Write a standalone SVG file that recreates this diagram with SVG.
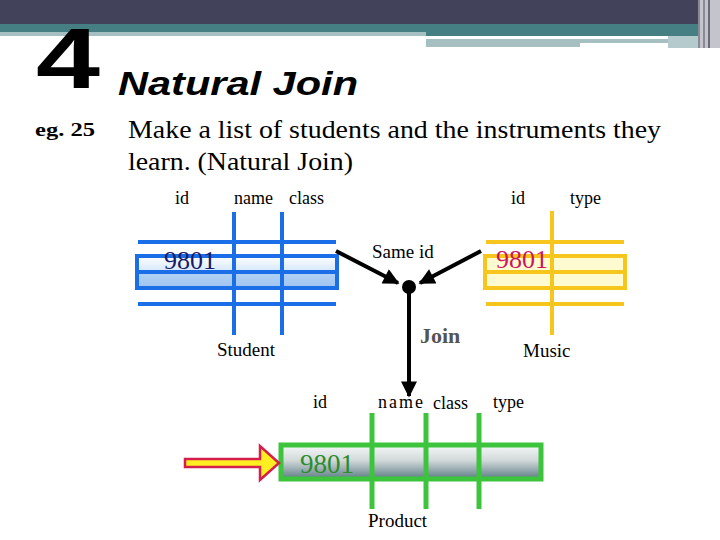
<svg xmlns="http://www.w3.org/2000/svg" width="720" height="540" viewBox="0 0 720 540">
<defs>
<style>
.serif{font-family:"Liberation Serif","Times New Roman",serif;fill:#000}
.hdr{font-size:18px}
.blue{stroke:#1a6ee8;stroke-width:4;fill:none}
.gold{stroke:#f6c61c;stroke-width:4;fill:none}
.green{stroke:#3cc43c;stroke-width:5;fill:none}
.conn{stroke:#000;stroke-width:4;fill:none}
</style>
<linearGradient id="gBlue" x1="0" y1="0" x2="0" y2="1">
<stop offset="0" stop-color="#ffffff"/>
<stop offset="0.5" stop-color="#d4e6fb"/>
<stop offset="0.5" stop-color="#b4d2f5"/>
<stop offset="1" stop-color="#9ec4f0"/>
</linearGradient>
<linearGradient id="gGray" x1="0" y1="0" x2="0" y2="1">
<stop offset="0" stop-color="#f6f8f8"/>
<stop offset="0.45" stop-color="#d2d9da"/>
<stop offset="1" stop-color="#5c7c84"/>
</linearGradient>
<marker id="ah" viewBox="0 0 10 10" refX="9" refY="5" markerWidth="4.5" markerHeight="4" orient="auto" markerUnits="strokeWidth">
<path d="M0,0 L10,5 L0,10 z" fill="#000"/>
</marker>
</defs>
<rect width="720" height="540" fill="#fff"/>
<g id="header-band">
<rect x="0" y="0" width="720" height="24" fill="#42435a"/>
<rect x="0" y="24" width="426" height="8" fill="#467f83"/>
<rect x="426" y="24" width="272" height="12" fill="#467f83"/>
<rect x="0" y="32" width="426" height="4" fill="#a6bfc1"/>
<rect x="426" y="39" width="154" height="8" fill="#a6bfc1"/>
<rect x="580" y="39" width="88" height="4" fill="#a6bfc1"/>
<rect x="668" y="36" width="30" height="12" fill="#b4cacc"/>
<rect x="698" y="0" width="22" height="48" fill="#c4c4cc"/>
<rect x="698" y="0" width="2" height="48" fill="#8a8a96"/>
<rect x="703" y="0" width="2" height="48" fill="#8a8a96"/>
<rect x="708" y="0" width="2" height="48" fill="#6a6a78"/>
</g>
<g id="title">
<text x="36" y="88" font-family="'Liberation Sans',Arial,sans-serif" font-weight="bold" font-size="86" textLength="64" lengthAdjust="spacingAndGlyphs">4</text>
<text x="118" y="95" font-family="'Liberation Sans',Arial,sans-serif" font-weight="bold" font-style="italic" font-size="34" textLength="240" lengthAdjust="spacingAndGlyphs">Natural Join</text>
<text class="serif" x="35" y="136" font-size="19" font-weight="bold" textLength="60" lengthAdjust="spacingAndGlyphs">eg. 25</text>
<text class="serif" x="128" y="138" font-size="26" textLength="533" lengthAdjust="spacingAndGlyphs">Make a list of students and the instruments they</text>
<text class="serif" x="128" y="170" font-size="26" textLength="225" lengthAdjust="spacingAndGlyphs">learn. (Natural Join)</text>
</g>
<g id="student">
<text class="serif hdr" x="175" y="204">id</text>
<text class="serif hdr" x="234" y="204">name</text>
<text class="serif hdr" x="289" y="204">class</text>
<rect x="137" y="256" width="200" height="32" fill="url(#gBlue)"/>
<line class="blue" x1="138" y1="242" x2="336" y2="242"/>
<rect class="blue" x="137" y="256" width="200" height="32"/>
<line class="blue" x1="137" y1="272" x2="337" y2="272"/>
<line class="blue" x1="138" y1="304" x2="336" y2="304"/>
<line class="blue" x1="234" y1="212" x2="234" y2="335"/>
<line class="blue" x1="282" y1="212" x2="282" y2="335"/>
<text class="serif" x="164" y="269" font-size="26" style="fill:#1a1a66">9801</text>
<text class="serif" x="217" y="356" font-size="19">Student</text>
</g>
<g id="music">
<text class="serif hdr" x="511" y="204">id</text>
<text class="serif hdr" x="570" y="204">type</text>
<rect x="485" y="256" width="140" height="32" fill="#fffbd0"/>
<line class="gold" x1="486" y1="242" x2="624" y2="242"/>
<rect class="gold" x="485" y="256" width="140" height="32"/>
<line class="gold" x1="485" y1="272" x2="625" y2="272"/>
<line class="gold" x1="486" y1="304" x2="624" y2="304"/>
<line class="gold" x1="552" y1="211" x2="552" y2="335"/>
<text class="serif" x="496" y="268" font-size="26" style="fill:#cc1460">9801</text>
<text class="serif" x="523" y="357" font-size="19">Music</text>
</g>
<g id="product">
<text class="serif hdr" x="313" y="408">id</text>
<text class="serif hdr" x="378" y="408" textLength="45">name</text>
<text class="serif hdr" x="433" y="409">class</text>
<text class="serif hdr" x="493" y="408">type</text>
<rect x="281" y="445" width="260" height="34" fill="url(#gGray)"/>
<rect class="green" x="281" y="445" width="260" height="34"/>
<line class="green" x1="372" y1="413" x2="372" y2="509"/>
<line class="green" x1="426" y1="413" x2="426" y2="509"/>
<line class="green" x1="479" y1="413" x2="479" y2="509"/>
<text class="serif" x="300" y="473" font-size="27" style="fill:#2a8c2a">9801</text>
<text class="serif" x="368" y="527" font-size="19">Product</text>
</g>
<g id="result-arrow">
<polygon points="185,459 260,459 260,446 279,463 260,480 260,467 185,467" fill="#ffee22" stroke="#d41e4c" stroke-width="2.5" stroke-linejoin="miter"/>
</g>
<g id="join-node">
<circle cx="409" cy="287" r="7" fill="#000"/>
<text class="serif" x="372" y="258" font-size="19">Same id</text>
<text class="serif" x="420" y="343" font-size="22" font-weight="bold" style="fill:#555">Join</text>
</g>
<g id="connectors">
<line class="conn" x1="336" y1="251" x2="398" y2="283" marker-end="url(#ah)"/>
<line class="conn" x1="481" y1="251" x2="420" y2="283" marker-end="url(#ah)"/>
<line class="conn" x1="409" y1="287" x2="409" y2="396" marker-end="url(#ah)"/>
</g>
</svg>
